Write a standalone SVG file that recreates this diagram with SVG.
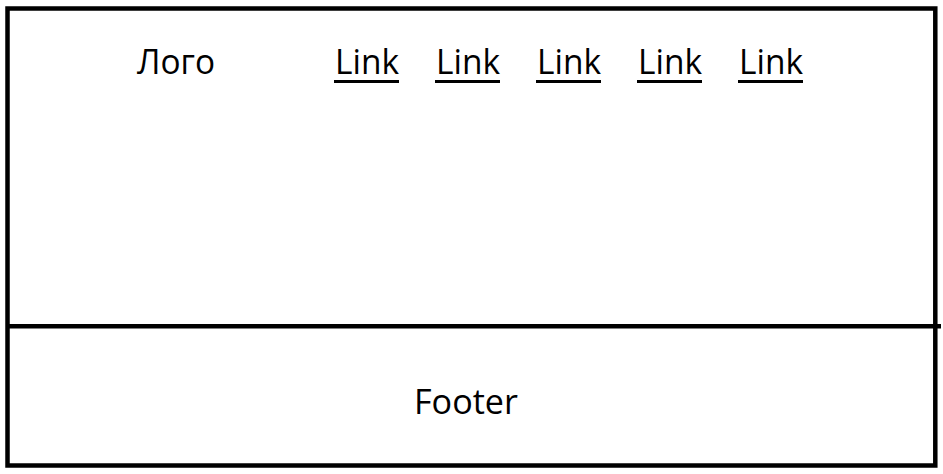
<svg xmlns="http://www.w3.org/2000/svg" width="943" height="474" viewBox="0 0 943 474">
  <style>
    .frame { fill: none; stroke: #000; stroke-width: 4.5; }
    .line { stroke: #000; stroke-width: 4.5; }
    .t { font-family: "Open Sans", "Noto Sans", "Liberation Sans", sans-serif; font-size: 34px; fill: #000; }
    .ul { fill: #000; }
  </style>
  <rect width="943" height="474" fill="#fff"/>
  <g id="page">
    <rect class="frame" x="7.5" y="8.5" width="927.8" height="457"/>
    <line class="line" x1="7.5" y1="326.3" x2="941" y2="326.3"/>
  </g>
  <g id="logo">
    <text class="t" x="137" y="74" textLength="78" lengthAdjust="spacingAndGlyphs">Лого</text>
  </g>
  <g id="link1">
    <text class="t" x="335" y="74" textLength="64" lengthAdjust="spacingAndGlyphs">Link</text>
    <rect class="ul" x="334" y="80" width="65" height="3"/>
  </g>
  <g id="link2">
    <text class="t" x="436" y="74" textLength="64" lengthAdjust="spacingAndGlyphs">Link</text>
    <rect class="ul" x="435" y="80" width="65" height="3"/>
  </g>
  <g id="link3">
    <text class="t" x="537" y="74" textLength="64" lengthAdjust="spacingAndGlyphs">Link</text>
    <rect class="ul" x="536" y="80" width="65" height="3"/>
  </g>
  <g id="link4">
    <text class="t" x="638" y="74" textLength="64" lengthAdjust="spacingAndGlyphs">Link</text>
    <rect class="ul" x="637" y="80" width="65" height="3"/>
  </g>
  <g id="link5">
    <text class="t" x="739" y="74" textLength="64" lengthAdjust="spacingAndGlyphs">Link</text>
    <rect class="ul" x="738" y="80" width="65" height="3"/>
  </g>
  <g id="footer">
    <text class="t" x="414" y="414" textLength="104" lengthAdjust="spacingAndGlyphs">Footer</text>
  </g>
</svg>
